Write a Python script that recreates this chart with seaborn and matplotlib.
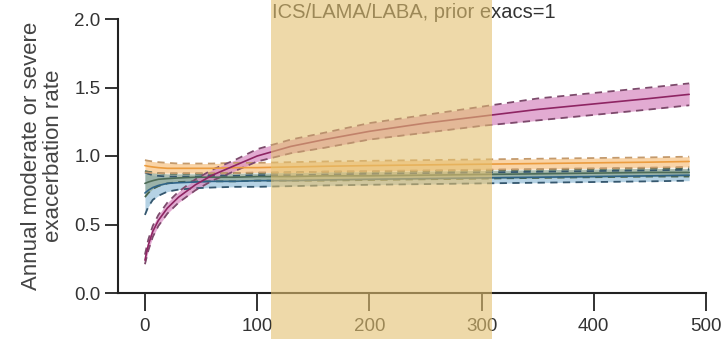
import numpy as np
import pandas as pd
import matplotlib
matplotlib.use("Agg")
import matplotlib.pyplot as plt
import matplotlib.transforms as mtransforms
from matplotlib.patches import Rectangle
import seaborn as sns

# ---- data ----
days = [0, 3, 7, 12, 20, 30, 45, 60, 80, 100, 130, 160, 200, 250, 300, 350, 400, 450, 485]

magenta_mid = [0.24, 0.35, 0.45, 0.53, 0.62, 0.70, 0.79, 0.86, 0.93, 1.00, 1.07, 1.12, 1.18, 1.24, 1.29, 1.34, 1.38, 1.42, 1.45]
magenta_lo = [0.21, 0.31, 0.41, 0.49, 0.58, 0.66, 0.75, 0.82, 0.89, 0.96, 1.02, 1.06, 1.12, 1.17, 1.22, 1.26, 1.30, 1.34, 1.37]
magenta_hi = [0.28, 0.39, 0.49, 0.57, 0.66, 0.74, 0.83, 0.90, 0.97, 1.05, 1.12, 1.17, 1.24, 1.30, 1.36, 1.42, 1.46, 1.50, 1.53]

orange_mid = [0.93, 0.925, 0.92, 0.915, 0.91, 0.91, 0.91, 0.91, 0.915, 0.915, 0.92, 0.925, 0.93, 0.935, 0.94, 0.945, 0.95, 0.955, 0.96]
orange_lo = [0.88, 0.88, 0.875, 0.875, 0.875, 0.875, 0.875, 0.875, 0.875, 0.88, 0.88, 0.885, 0.89, 0.895, 0.90, 0.905, 0.91, 0.915, 0.92]
orange_hi = [0.97, 0.965, 0.96, 0.955, 0.95, 0.945, 0.945, 0.945, 0.95, 0.95, 0.955, 0.96, 0.965, 0.97, 0.975, 0.98, 0.985, 0.99, 0.995]

green_mid = [0.80, 0.81, 0.82, 0.83, 0.835, 0.84, 0.845, 0.845, 0.845, 0.85, 0.85, 0.855, 0.855, 0.86, 0.865, 0.87, 0.875, 0.88, 0.88]
green_lo = [0.70, 0.73, 0.76, 0.78, 0.80, 0.81, 0.815, 0.815, 0.815, 0.82, 0.82, 0.82, 0.825, 0.83, 0.835, 0.84, 0.845, 0.85, 0.85]
green_hi = [0.89, 0.885, 0.88, 0.875, 0.87, 0.87, 0.87, 0.87, 0.875, 0.875, 0.88, 0.885, 0.885, 0.89, 0.895, 0.90, 0.905, 0.91, 0.91]

blue_mid = [0.73, 0.75, 0.77, 0.785, 0.80, 0.805, 0.81, 0.815, 0.815, 0.82, 0.82, 0.825, 0.83, 0.835, 0.84, 0.845, 0.85, 0.855, 0.86]
blue_lo = [0.57, 0.63, 0.68, 0.71, 0.74, 0.755, 0.765, 0.77, 0.775, 0.775, 0.78, 0.785, 0.79, 0.795, 0.80, 0.805, 0.81, 0.815, 0.82]
blue_hi = [0.88, 0.87, 0.86, 0.855, 0.85, 0.85, 0.85, 0.855, 0.855, 0.86, 0.86, 0.865, 0.87, 0.875, 0.88, 0.885, 0.89, 0.895, 0.90]

shade_range = [112, 309]
title_text = "ICS/LAMA/LABA, prior exacs=1"
ylabel_text = "Annual moderate or severe\nexacerbation rate"
x_ticks = [0, 100, 200, 300, 400, 500]
y_ticks = [0.0, 0.5, 1.0, 1.5, 2.0]

series = {
    "magenta": (magenta_mid, magenta_lo, magenta_hi),
    "orange": (orange_mid, orange_lo, orange_hi),
    "green": (green_mid, green_lo, green_hi),
    "blue": (blue_mid, blue_lo, blue_hi),
}
styles = {
    "blue": dict(fill="#9dc3dc", line="#2f6488", dash="#35576e"),
    "green": dict(fill="#93a996", line="#4d6b57", dash="#4a6550"),
    "orange": dict(fill="#f7c68a", line="#eb9c3f", dash="#c49a6c"),
    "magenta": dict(fill="#d98fc3", line="#8e2563", dash="#7d4a6c"),
}
order = ["blue", "green", "orange", "magenta"]

rows = []
for name, (mid, lo, hi) in series.items():
    for d, m, l, h in zip(days, mid, lo, hi):
        rows.append(dict(series=name, day=d, mid=m, lo=l, hi=h))
df = pd.DataFrame(rows)

# ---- plot ----
sns.set_theme(style="ticks")
plt.rcParams["font.family"] = ["Liberation Sans", "DejaVu Sans"]

fig = plt.figure(figsize=(7.21, 3.39), dpi=100)
ax = fig.add_axes([118 / 721, 1 - 293 / 339, (706 - 118) / 721, (293 - 19) / 339])

for name in order:
    st = styles[name]
    sub = df[df["series"] == name]
    ax.fill_between(sub["day"], sub["lo"], sub["hi"], color=st["fill"], alpha=0.75, lw=0, zorder=2)
    sns.lineplot(data=sub, x="day", y="lo", ax=ax, color=st["dash"], lw=1.3,
                 linestyle=(0, (4, 3)), zorder=3)
    sns.lineplot(data=sub, x="day", y="hi", ax=ax, color=st["dash"], lw=1.3,
                 linestyle=(0, (4, 3)), zorder=3)
    sns.lineplot(data=sub, x="day", y="mid", ax=ax, color=st["line"], lw=1.2, zorder=4)

ax.set_xlim(-24, 500)
ax.set_ylim(0, 2.0)
ax.set_xticks(x_ticks)
ax.set_yticks(y_ticks)
ax.set_yticklabels([f"{v:.1f}" for v in y_ticks])
ax.set_xlabel("")
ax.set_ylabel(ylabel_text, fontsize=16, color="#444444", linespacing=1.05)
ax.yaxis.set_label_coords(-0.092, 0.5)
sns.despine(ax=ax)
for s in ["left", "bottom"]:
    ax.spines[s].set_linewidth(1.5)
    ax.spines[s].set_color("#222222")
ax.tick_params(axis="both", width=1.3, color="#222222",
               labelsize=13.5, labelcolor="#333333")
ax.tick_params(axis="y", length=9.5, pad=3)
ax.tick_params(axis="x", length=13, pad=5)

fig.text(0.574, 0.962, title_text, ha="center", va="center", fontsize=14.5, color="#333333")

trans = mtransforms.blended_transform_factory(ax.transData, fig.transFigure)
rect = Rectangle((shade_range[0], 0), shade_range[1] - shade_range[0], 1,
                 transform=trans, facecolor=(228 / 255, 193 / 255, 112 / 255),
                 alpha=0.6, edgecolor="none", zorder=10)
fig.add_artist(rect)

fig.savefig("out.png", dpi=100)
